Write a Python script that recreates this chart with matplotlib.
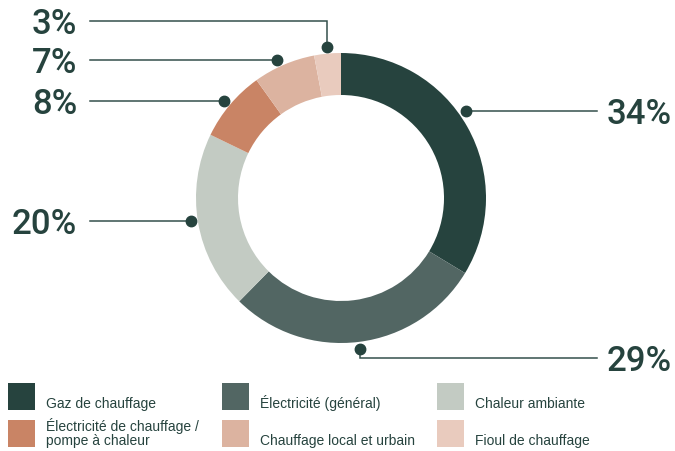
import numpy as np
import matplotlib
matplotlib.use("Agg")
import matplotlib.pyplot as plt
from matplotlib.patches import Rectangle

# Energy sources for heating, share in percent
categories = [
    "Gaz de chauffage",
    "Électricité (général)",
    "Chaleur ambiante",
    "Électricité de chauffage /\npompe à chaleur",
    "Chauffage local et urbain",
    "Fioul de chauffage",
]
shares = [34, 29, 20, 8, 7, 3]
share_labels = ["34%", "29%", "20%", "8%", "7%", "3%"]
colors = ["#26433e", "#526663", "#c3cbc3", "#c98465", "#dcb3a0", "#e9cbbe"]

INK = "#26433e"
LINE = "#34504b"
W, H = 675, 451
NUM_FONT = ["Roboto", "DejaVu Sans"]
TXT_FONT = ["Liberation Sans", "DejaVu Sans"]

fig = plt.figure(figsize=(W / 100, H / 100), dpi=100)
ax = fig.add_axes([0, 0, 1, 1])

# ring geometry in pixel units (y measured from the top)
cx, cy = 341, 198
r_out, ring_w = 145, 42
r_dot = 152

def Y(y):
    return H - y

ax.pie(shares, colors=colors, startangle=90, counterclock=False,
       center=(cx, Y(cy)), radius=r_out,
       wedgeprops=dict(width=ring_w, linewidth=0))
ax.set_xlim(0, W)
ax.set_ylim(0, H)
ax.set_aspect("equal")
ax.axis("off")

total = float(sum(shares))
edges = np.concatenate([[0], np.cumsum(shares)]) / total * 360.0
mid = (edges[:-1] + edges[1:]) / 2.0

# label layout: row (y from top), side, leader style
rows = [111, 358, 221, 101, 60, 21]
sides = ["right", "right", "left", "left", "left", "left"]
elbow = [False, True, False, False, False, True]
x_left_line, x_left_text = 90, 77
x_right_line, x_right_text = 597, 607

for i, lab in enumerate(share_labels):
    row = rows[i]
    side = sides[i]
    xs_end = x_right_line if side == "right" else x_left_line
    if elbow[i]:
        a = np.deg2rad(mid[i])
        px, py = cx + r_dot * np.sin(a), cy - r_dot * np.cos(a)
        ax.plot([px, px, xs_end], [Y(py), Y(row), Y(row)], color=LINE,
                lw=1.1, solid_joinstyle="miter", zorder=3)
    else:
        dy = row - cy
        dx = np.sqrt(r_dot ** 2 - dy ** 2) * (1 if side == "right" else -1)
        px, py = cx + dx, row
        ax.plot([px, xs_end], [Y(py), Y(py)], color=LINE, lw=1.1, zorder=3)
    ax.plot(px, Y(py), "o", color=INK, ms=7.5, zorder=4)
    ax.text(x_right_text if side == "right" else x_left_text, Y(row), lab,
            ha="left" if side == "right" else "right", va="center_baseline",
            fontsize=25, fontweight="medium", color=INK, family=NUM_FONT)

# legend: three columns, two rows
col_x = [8, 222, 437]
row_top = [383, 420]
sq = 27
for i, (name, col) in enumerate(zip(categories, colors)):
    r, c = divmod(i, 3)
    x0, y0 = col_x[c], row_top[r]
    ax.add_patch(Rectangle((x0, Y(y0 + sq)), sq, sq, color=col, lw=0))
    ax.text(x0 + 38, Y(y0 + sq - 2), name, ha="left", va="baseline",
            fontsize=10, color=INK, family=TXT_FONT, linespacing=1.0)

fig.savefig("out.png", dpi=100)
